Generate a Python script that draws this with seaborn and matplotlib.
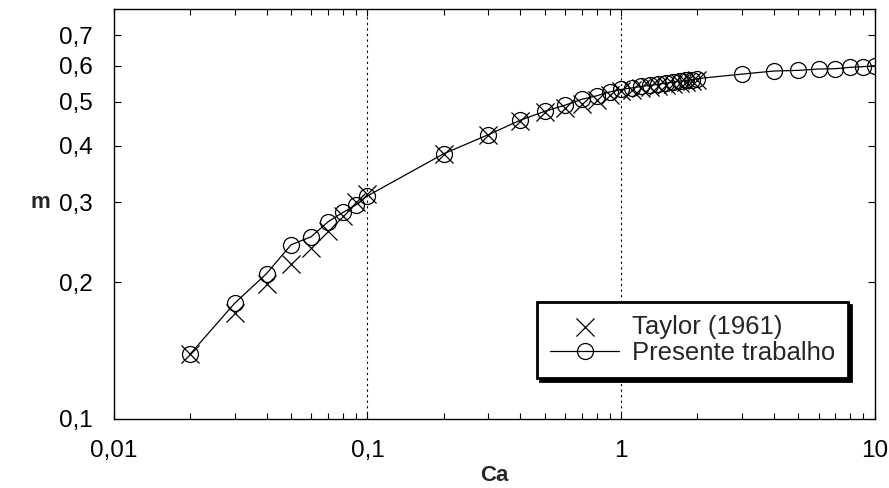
import numpy as np
import pandas as pd
import matplotlib
matplotlib.use("Agg")
import matplotlib.pyplot as plt
from matplotlib.ticker import FixedLocator, FixedFormatter, NullLocator
import seaborn as sns

# ---- data ----
ca_present = [0.02, 0.03, 0.04, 0.05, 0.06, 0.07, 0.08, 0.09, 0.1,
              0.2, 0.3, 0.4, 0.5, 0.6, 0.7, 0.8, 0.9, 1.0,
              1.1, 1.2, 1.3, 1.4, 1.5, 1.6, 1.7, 1.8, 1.9, 2.0,
              3, 4, 5, 6, 7, 8, 9, 10]
m_present = [0.139, 0.180, 0.209, 0.242, 0.252, 0.272, 0.285, 0.296, 0.310,
             0.384, 0.423, 0.455, 0.476, 0.491, 0.506, 0.515, 0.525, 0.532,
             0.536, 0.540, 0.543, 0.546, 0.549, 0.552, 0.555, 0.557, 0.559, 0.562,
             0.575, 0.584, 0.586, 0.590, 0.591, 0.595, 0.597, 0.600]

ca_taylor = [0.02, 0.03, 0.04, 0.05, 0.06, 0.07, 0.08, 0.09, 0.1,
             0.2, 0.3, 0.4, 0.5, 0.6, 0.7, 0.8, 0.9, 1.0,
             1.1, 1.2, 1.3, 1.4, 1.5, 1.6, 1.7, 1.8, 1.9, 2.0]
m_taylor = [0.139, 0.171, 0.198, 0.219, 0.238, 0.260, 0.280, 0.300, 0.313,
            0.384, 0.423, 0.454, 0.474, 0.483, 0.494, 0.503, 0.517, 0.527,
            0.531, 0.535, 0.539, 0.542, 0.545, 0.548, 0.551, 0.553, 0.555, 0.558]

y_ticks = [0.1, 0.2, 0.3, 0.4, 0.5, 0.6, 0.7]
y_ticklabels = ["0,1", "0,2", "0,3", "0,4", "0,5", "0,6", "0,7"]
x_ticks = [0.01, 0.1, 1, 10]
x_ticklabels = ["0,01", "0,1", "1", "10"]

sns.set_theme(style="white")
plt.rcParams['font.family'] = ['Liberation Sans', 'DejaVu Sans']

fig = plt.figure(figsize=(8.89, 4.88), dpi=100)
ax = fig.add_axes([0.128, 0.1414, 0.856, 0.8402])

ax.set_xscale("log")
ax.set_yscale("log")

df_p = pd.DataFrame({"Ca": ca_present, "m": m_present})
df_t = pd.DataFrame({"Ca": ca_taylor, "m": m_taylor})

sns.scatterplot(data=df_t, x="Ca", y="m", marker="x", s=170, color="black",
                linewidth=0.9, ax=ax, label="Taylor (1961)", zorder=3)
sns.lineplot(data=df_p, x="Ca", y="m", sort=False, color="black", linewidth=0.9,
             marker="o", markersize=11.5, markerfacecolor="none",
             markeredgecolor="black", markeredgewidth=0.9, ax=ax,
             label="Presente trabalho", zorder=4)

for xv in [0.1, 1]:
    ax.axvline(xv, color="black", linestyle=(0, (2, 3)), linewidth=0.8, zorder=1)

ax.set_xlim(0.01, 10)
ax.set_ylim(0.1, 0.8)

ax.yaxis.set_major_locator(FixedLocator(y_ticks))
ax.yaxis.set_major_formatter(FixedFormatter(y_ticklabels))
ax.yaxis.set_minor_locator(NullLocator())
ax.xaxis.set_major_locator(FixedLocator(x_ticks))
ax.xaxis.set_major_formatter(FixedFormatter(x_ticklabels))
minors = [b * k for b in [0.01, 0.1, 1] for k in range(2, 10)]
ax.xaxis.set_minor_locator(FixedLocator(minors))

ax.tick_params(axis="both", which="both", direction="in", colors="black",
               top=True, right=True, bottom=True, left=True, labelsize=17.5)
ax.tick_params(axis="y", which="major", length=5, width=0.8, pad=15)
ax.tick_params(axis="x", which="major", length=5, width=0.8, pad=15)
ax.tick_params(axis="x", which="minor", length=4, width=0.8)

for s in ax.spines.values():
    s.set_color("black")
    s.set_linewidth(1.0)
    s.set_visible(True)

ax.set_xlabel("Ca", fontsize=16, fontweight="bold", va="center")
ax.xaxis.set_label_coords(0.5, -0.137)
ax.set_ylabel("m", fontsize=16, fontweight="bold", rotation=0, ha="center", va="center")
ax.yaxis.set_label_coords(-0.097, 0.529)

leg = ax.legend(loc="lower right", bbox_to_anchor=(0.965, 0.10), borderaxespad=0,
                fontsize=18.5, frameon=True, fancybox=False, framealpha=1,
                edgecolor="black", handlelength=2.7, handletextpad=0.5,
                borderpad=0.5, labelspacing=0.1,
                shadow={"color": "black", "alpha": 1})
leg.get_frame().set_linewidth(2.0)

fig.savefig("out.png", dpi=100)
